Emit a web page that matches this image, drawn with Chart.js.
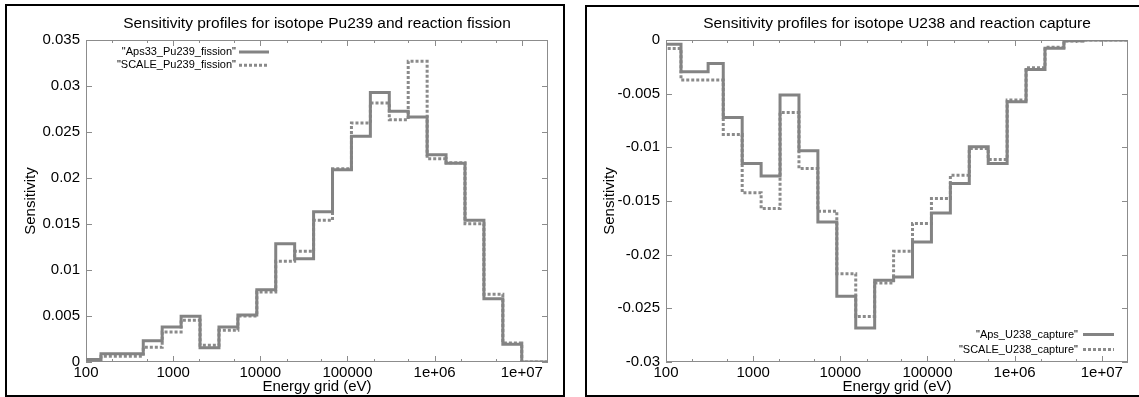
<!DOCTYPE html>
<html>
<head>
<meta charset="utf-8">
<script src="https://cdn.jsdelivr.net/npm/chart.js@4.4.1/dist/chart.umd.min.js"></script>
<style>
html,body{margin:0;padding:0;background:#fff;width:1139px;height:397px;overflow:hidden}
#c1{position:absolute;left:0;top:0}
#c2{position:absolute;left:575px;top:0}
.frame{position:absolute;border:2.5px solid #000;box-sizing:border-box;pointer-events:none}
</style>
</head>
<body>
<canvas id="c1" width="575" height="397" style="width:575px;height:397px"></canvas>
<canvas id="c2" width="564" height="397" style="width:564px;height:397px"></canvas>
<div class="frame" style="left:5px;top:4px;width:560px;height:393px"></div>
<div class="frame" style="left:585px;top:5px;width:600px;height:392px"></div>
<script>
// ---- DATA ----
// 33-group energy structure (eV), lower edges of displayed groups + top edge
const groupEdges = [91.661, 148.63, 304.33, 454.0, 748.52, 1234.1, 2034.7, 3354.6, 5530.8, 9118.8,
  15034, 24788, 40868, 67379, 111090, 183160, 301970, 497870, 820850, 1353400,
  2231300, 3678800, 6065300, 10000000, 19640000];

const pu239FissionAps = [0.00026, 0.0009, 0.0009, 0.00232, 0.0038, 0.00496, 0.00156, 0.0038, 0.0051, 0.00786,
  0.01286, 0.01123, 0.01634, 0.0209, 0.02453, 0.02928, 0.02725, 0.02663, 0.02254, 0.0216,
  0.0154, 0.00688, 0.00192, 0];
const pu239FissionScale = [0.0002, 0.00062, 0.00062, 0.0016, 0.00326, 0.00453, 0.00181, 0.00344, 0.0050, 0.0076,
  0.01094, 0.01203, 0.0154, 0.0210, 0.02598, 0.02815, 0.02634, 0.03268, 0.0221, 0.02167,
  0.01504, 0.00736, 0.00207, 0];

const u238CaptureAps = [-0.0004, -0.00295, -0.00218, -0.00721, -0.0115, -0.01266, -0.00513, -0.01032, -0.01695, -0.02388,
  -0.02683, -0.02239, -0.02208, -0.01881, -0.01611, -0.01337, -0.00995, -0.0115, -0.00575, -0.00274,
  -0.00078, -0.00006, 0, 0];
const u238CaptureScale = [-0.0008, -0.00373, -0.00373, -0.0088, -0.01424, -0.0157, -0.00675, -0.01197, -0.01595, -0.02177,
  -0.02575, -0.02264, -0.01968, -0.0171, -0.01477, -0.01259, -0.0101, -0.01113, -0.0056, -0.00258,
  -0.00068, -0.0001, 0, 0];

const majorTicks = [100, 1000, 10000, 100000, 1000000, 10000000];
const majorTickLabels = ['100', '1000', '10000', '100000', '1e+06', '1e+07'];
const minorMultipliers = [2, 5];

const leftTitle = 'Sensitivity profiles for isotope Pu239 and reaction fission';
const rightTitle = 'Sensitivity profiles for isotope U238 and reaction capture';
const xTitle = 'Energy grid (eV)';
const yTitle = 'Sensitivity';
const leftLabels = ['"Aps33_Pu239_fission"', '"SCALE_Pu239_fission"'];
const rightLabels = ['"Aps_U238_capture"', '"SCALE_U238_capture"'];

// ---- STYLE ----
const FONT = '"Liberation Sans", Arial, Helvetica, sans-serif';
const LINE_COLOR = '#838383';
const DASH_COLOR = '#8a8a8a';
const AXIS_COLOR = '#8c8c8c';

function stepPoints(values) {
  const pts = values.map((v, i) => ({ x: groupEdges[i], y: v }));
  pts.push({ x: groupEdges[groupEdges.length - 1], y: values[values.length - 1] });
  return pts;
}

const tickValues = [];
majorTicks.forEach((m, i) => {
  tickValues.push(m);
  if (i < majorTicks.length - 1) minorMultipliers.forEach(k => tickValues.push(m * k));
});
tickValues.sort((a, b) => a - b);

const frameTicks = {
  id: 'frameTicks',
  beforeDatasetsDraw(chart) {
    const { ctx, chartArea: a, scales: { x, y } } = chart;
    ctx.save();
    ctx.strokeStyle = AXIS_COLOR;
    ctx.lineWidth = 1;
    ctx.strokeRect(Math.round(a.left) + 0.5, Math.round(a.top) + 0.5,
      Math.round(a.right - a.left) - 1, Math.round(a.bottom - a.top) - 1);
    ctx.beginPath();
    x.ticks.forEach(t => {
      const px = Math.round(x.getPixelForValue(t.value)) + 0.5;
      const len = majorTicks.includes(t.value) ? 6 : 3;
      ctx.moveTo(px, a.bottom); ctx.lineTo(px, a.bottom - len);
      ctx.moveTo(px, a.top); ctx.lineTo(px, a.top + len);
    });
    y.ticks.forEach(t => {
      const py = Math.round(y.getPixelForValue(t.value)) + 0.5;
      ctx.moveTo(a.left, py); ctx.lineTo(a.left + 6, py);
      ctx.moveTo(a.right, py); ctx.lineTo(a.right - 6, py);
    });
    ctx.stroke();
    ctx.restore();
  }
};

const gpLegend = {
  id: 'gpLegend',
  afterDraw(chart, args, opts) {
    const ctx = chart.ctx;
    ctx.save();
    ctx.font = '11px ' + FONT;
    ctx.textAlign = 'right';
    ctx.textBaseline = 'middle';
    ctx.fillStyle = '#000';
    chart.data.datasets.forEach((ds, i) => {
      const yy = opts.y + i * opts.dy;
      ctx.fillText(ds.label, opts.textRight, yy);
      ctx.strokeStyle = ds.borderColor;
      ctx.lineWidth = ds.borderWidth;
      ctx.setLineDash(ds.borderDash || []);
      ctx.beginPath();
      ctx.moveTo(opts.x0, yy);
      ctx.lineTo(opts.x1, yy);
      ctx.stroke();
    });
    ctx.restore();
  }
};

function makeChart(id, cfg) {
  return new Chart(document.getElementById(id), {
    type: 'line',
    data: {
      datasets: [
        { label: cfg.labels[0], data: stepPoints(cfg.series[0]), stepped: 'before',
          borderColor: LINE_COLOR, borderWidth: 3, pointRadius: 0, fill: false },
        { label: cfg.labels[1], data: stepPoints(cfg.series[1]), stepped: 'before',
          borderColor: DASH_COLOR, borderWidth: 3, borderDash: [3, 2], pointRadius: 0, fill: false }
      ]
    },
    options: {
      responsive: false,
      animation: false,
      devicePixelRatio: 1,
      layout: { padding: { left: 0, top: 0, right: cfg.padRight, bottom: 0 } },
      plugins: {
        legend: { display: false },
        tooltip: { enabled: false },
        title: {
          display: true, text: cfg.title, fullSize: false, color: '#000',
          font: { family: FONT, size: 15.5, weight: 'normal' },
          padding: { top: 14, bottom: 7.4 }
        },
        gpLegend: cfg.legend
      },
      scales: {
        x: {
          type: 'logarithmic', min: 100, max: 2e7,
          grid: { display: false, drawTicks: false },
          border: { display: false },
          afterBuildTicks(scale) { scale.ticks = tickValues.map(v => ({ value: v })); },
          afterFit(scale) { scale.height = 35; },
          ticks: {
            autoSkip: false, maxRotation: 0, minRotation: 0, padding: 2, color: '#000',
            font: { family: FONT, size: 15 },
            callback(value) {
              const k = majorTicks.indexOf(value);
              return k >= 0 ? majorTickLabels[k] : '';
            }
          },
          title: { display: true, text: xTitle, color: '#000',
            font: { family: FONT, size: 15 }, padding: { top: 0, bottom: 1.5 } }
        },
        y: {
          type: 'linear', min: cfg.yMin, max: cfg.yMax,
          grid: { display: false, drawTicks: false },
          border: { display: false },
          afterFit(scale) { scale.width = cfg.yWidth; },
          ticks: {
            stepSize: 0.005, padding: 6, color: '#000',
            font: { family: FONT, size: 15 },
            callback(value) { return String(Number(value.toFixed(4))); }
          },
          title: { display: true, text: yTitle, color: '#000',
            font: { family: FONT, size: 15 }, padding: { top: cfg.yTitlePad, bottom: 0 } }
        }
      }
    },
    plugins: [frameTicks, gpLegend]
  });
}

makeChart('c1', {
  labels: leftLabels, series: [pu239FissionAps, pu239FissionScale], title: leftTitle,
  yMin: 0, yMax: 0.035, yWidth: 86, padRight: 27, yTitlePad: 22,
  legend: { textRight: 236, x0: 239, x1: 269, y: 52, dy: 13.3 }
});
makeChart('c2', {
  labels: rightLabels, series: [u238CaptureAps, u238CaptureScale], title: rightTitle,
  yMin: -0.03, yMax: 0, yWidth: 91, padRight: 11, yTitlePad: 25.7,
  legend: { textRight: 503, x0: 508, x1: 539, y: 334.5, dy: 15 }
});
</script>
</body>
</html>
